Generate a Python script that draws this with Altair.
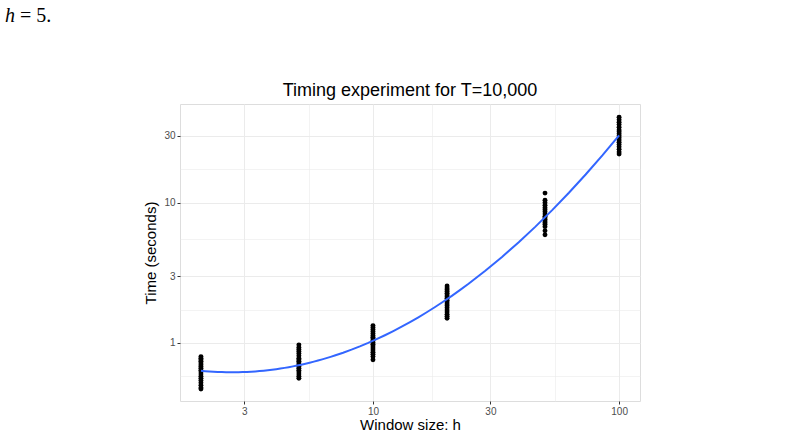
import altair as alt
import pandas as pd

# ---- data ----
window_sizes = [2, 5, 10, 20, 50, 100]
times_h2 = [0.80, 0.78, 0.76, 0.74, 0.72, 0.70, 0.68, 0.66, 0.64, 0.62, 0.60,
            0.58, 0.56, 0.54, 0.52, 0.50, 0.48, 0.47]
times_h5 = [0.97, 0.93, 0.90, 0.87, 0.84, 0.81, 0.78, 0.76, 0.74, 0.72, 0.70,
            0.68, 0.66, 0.64, 0.62, 0.60, 0.58, 0.56]
times_h10 = [1.33, 1.29, 1.25, 1.21, 1.17, 1.13, 1.10, 1.07, 1.04, 1.01, 0.98,
             0.95, 0.92, 0.89, 0.86, 0.83, 0.80, 0.76]
times_h20 = [2.55, 2.47, 2.40, 2.33, 2.26, 2.20, 2.14, 2.08, 2.02, 1.96, 1.90,
             1.84, 1.78, 1.72, 1.66, 1.60, 1.55, 1.50]
times_h50 = [11.7, 10.4, 10.0, 9.6, 9.2, 8.9, 8.6, 8.3, 8.0, 7.8, 7.6, 7.4,
             7.2, 7.0, 6.75, 6.3, 5.9]
times_h100 = [40.6, 39.0, 37.5, 36.0, 34.5, 33.0, 32.0, 31.0, 30.0, 29.0, 28.0,
              27.0, 26.0, 25.0, 24.0, 23.0, 22.2]

x_major = [3, 10, 30, 100]
x_minor = [5.477, 17.32, 54.77]
y_major = [1, 3, 10, 30]
y_minor = [0.5774, 1.732, 5.477, 17.32]

title_text = "Timing experiment for T=10,000"
x_title = "Window size: h"
y_title = "Time (seconds)"
note_var = "h"
note_rest = "= 5."

# ---- build table ----
groups = [times_h2, times_h5, times_h10, times_h20, times_h50, times_h100]
rows = []
for h, ts in zip(window_sizes, groups):
    for t in ts:
        rows.append({"h": h, "time": t})
df = pd.DataFrame(rows)

FONT = "Liberation Sans"


def major_test(vals):
    return "indexof(" + str(vals) + ", datum.value) >= 0"


x_scale = alt.Scale(type="log", domain=[1.644, 121.6], nice=False)
y_scale = alt.Scale(type="log", domain=[0.386, 50.5], nice=False)


def make_axis(major, minor, title, title_pad):
    return alt.Axis(
        values=major + minor,
        title=title,
        domain=False,
        grid=True,
        gridColor="#ebebeb",
        gridWidth={"condition": {"test": major_test(major), "value": 1.0}, "value": 0.6},
        tickColor="#333333",
        tickSize=3,
        tickOpacity={"condition": {"test": major_test(major), "value": 1}, "value": 0},
        labelExpr=major_test(major) + " ? format(datum.value, 'd') : ''",
        labelFont=FONT,
        labelFontSize=10,
        labelColor="#4d4d4d",
        labelPadding=2,
        titleFont=FONT,
        titleFontSize=15,
        titleFontWeight="normal",
        titleColor="black",
        titlePadding=title_pad,
    )


x_axis = make_axis(x_major, x_minor, x_title, 1)
y_axis = make_axis(y_major, y_minor, y_title, 5)

base = alt.Chart(df)

points = base.mark_circle(size=24, color="black", opacity=1).encode(
    x=alt.X("h:Q", scale=x_scale, axis=x_axis),
    y=alt.Y("time:Q", scale=y_scale, axis=y_axis),
)

smooth = (
    base.transform_calculate(
        lx="log(datum.h) / LN10", ly="log(datum.time) / LN10"
    )
    .transform_regression("lx", "ly", method="poly", order=2)
    .transform_calculate(h="pow(10, datum.lx)", time="pow(10, datum.ly)")
    .mark_line(color="#3366FF", strokeWidth=2)
    .encode(
        x=alt.X("h:Q", scale=x_scale, axis=x_axis),
        y=alt.Y("time:Q", scale=y_scale, axis=y_axis),
    )
)

title_mark = alt.Chart(pd.DataFrame({"t": [title_text]})).mark_text(
    font=FONT, fontSize=18, align="center", baseline="alphabetic", color="black"
).encode(text="t:N", x=alt.value(230), y=alt.value(-8))

note_h = alt.Chart(pd.DataFrame({"t": [note_var]})).mark_text(
    font="Liberation Serif", fontSize=20, fontStyle="italic", align="left",
    baseline="alphabetic", color="black"
).encode(text="t:N", x=alt.value(-175), y=alt.value(-82))

note_r = alt.Chart(pd.DataFrame({"t": [note_rest]})).mark_text(
    font="Liberation Serif", fontSize=20, align="left",
    baseline="alphabetic", color="black"
).encode(text="t:N", x=alt.value(-160), y=alt.value(-82))

chart = (
    alt.layer(points, smooth, title_mark, note_h, note_r)
    .properties(
        width=460,
        height=297,
        autosize=alt.AutoSizeParams(type="none"),
        padding={"left": 180, "top": 104, "right": 168, "bottom": 34},
    )
    .configure_view(stroke="#8a8a8a", strokeWidth=1)
    .configure(background="white")
)

chart.save("out.html", embed_options={"renderer": "svg", "actions": False})
